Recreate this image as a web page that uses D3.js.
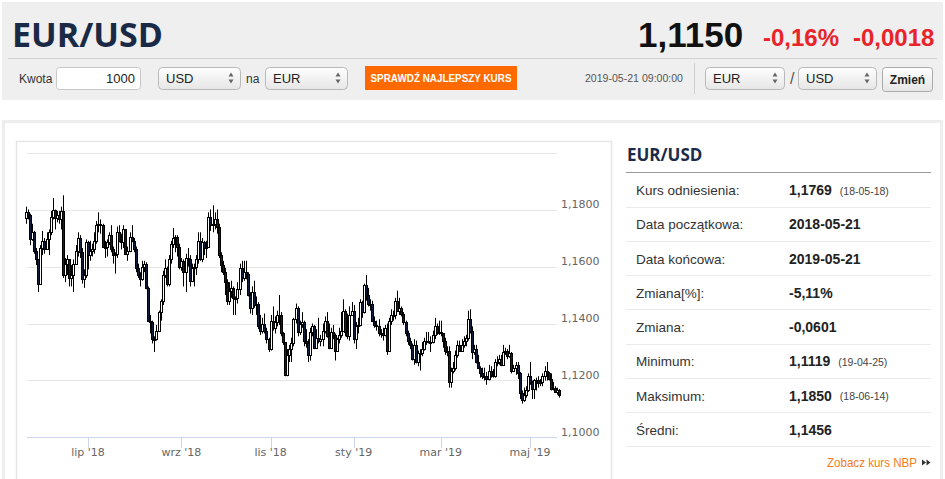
<!DOCTYPE html>
<html><head><meta charset="utf-8">
<script src="https://cdn.jsdelivr.net/npm/d3@7"></script>
<style>body{margin:0;background:#fff}svg{display:block}</style>
</head><body><svg id="c" width="945" height="479"></svg>
<script>
// ---- data (EUR/USD daily, 2018-05-21 .. 2019-05-21) ----
const refOpen = 1.1769;
const startDate = "2018-05-21";
const holidays = ["2018-12-24","2018-12-25","2018-12-31","2019-01-01"];
const closes = [
1.1790,1.1780,1.1695,1.1720,1.1655,1.1625,1.1540,1.1665,1.1690,
1.1660,1.1695,1.1720,1.1775,1.1800,1.1770,1.1780,1.1765,1.1795,1.1570,1.1610,1.1625,1.1560,1.1570,1.1610,1.1655,1.1700,1.1650,1.1555,1.1570,1.1685,
1.1640,1.1655,1.1660,1.1690,1.1745,1.1750,1.1745,1.1670,1.1670,1.1685,1.1710,1.1660,1.1640,1.1645,1.1720,1.1690,1.1685,1.1730,1.1645,1.1655,1.1705,1.1690,
1.1660,1.1595,1.1570,1.1555,1.1600,1.1610,1.1525,1.1410,1.1405,1.1345,1.1345,1.1375,1.1440,1.1480,1.1570,1.1595,1.1540,1.1625,1.1680,1.1700,1.1705,1.1670,1.1600,
1.1620,1.1580,1.1630,1.1625,1.1550,1.1595,1.1600,1.1625,1.1690,1.1625,1.1685,1.1665,1.1670,1.1775,1.1745,1.1750,1.1765,1.1740,1.1640,1.1605,
1.1580,1.1545,1.1480,1.1515,1.1525,1.1490,1.1490,1.1520,1.1595,1.1560,1.1580,1.1575,1.1500,1.1455,1.1510,1.1465,1.1470,1.1390,1.1375,1.1400,1.1375,1.1345,1.1310,
1.1410,1.1385,1.1405,1.1430,1.1430,1.1365,1.1335,1.1220,1.1290,1.1310,1.1330,1.1415,1.1455,1.1370,1.1400,1.1405,1.1340,1.1330,1.1290,1.1370,1.1390,1.1315,
1.1350,1.1340,1.1345,1.1375,1.1410,1.1355,1.1315,1.1370,1.1360,1.1305,1.1345,1.1360,1.1375,1.1445,1.1370,1.1355,1.1430,1.1445,
1.1345,1.1390,1.1395,1.1475,1.1440,1.1535,1.1500,1.1470,1.1470,1.1410,1.1395,1.1390,1.1365,1.1365,1.1360,1.1385,1.1305,1.1410,1.1430,1.1430,1.1480,1.1445,
1.1455,1.1435,1.1405,1.1365,1.1340,1.1325,1.1275,1.1325,1.1265,1.1295,1.1295,1.1310,1.1340,1.1340,1.1335,1.1335,1.1360,1.1390,1.1370,1.1370,
1.1365,1.1340,1.1305,1.1305,1.1195,1.1235,1.1245,1.1290,1.1325,1.1305,1.1325,1.1340,1.1350,1.1415,1.1375,1.1300,1.1310,1.1265,1.1245,1.1225,1.1215,
1.1215,1.1205,1.1235,1.1220,1.1215,1.1265,1.1265,1.1275,1.1255,1.1300,1.1305,1.1285,1.1295,1.1235,1.1245,1.1255,1.1225,1.1155,1.1130,1.1150,1.1165,1.1215,
1.1195,1.1170,1.1200,1.1200,1.1190,1.1195,1.1215,1.1235,1.1225,1.1205,1.1170,1.1175,1.1160,1.1165,1.1150
];
const highs = [
1.1810,1.1800,1.1785,1.1750,1.1725,1.1665,1.1625,1.1675,1.1725,
1.1700,1.1720,1.1730,1.1795,1.1840,1.1800,1.1795,1.1795,1.1810,1.1850,1.1630,1.1640,1.1625,1.1605,1.1625,1.1675,1.1720,1.1710,1.1665,1.1590,1.1695,
1.1690,1.1690,1.1680,1.1720,1.1760,1.1790,1.1765,1.1750,1.1690,1.1695,1.1720,1.1745,1.1670,1.1650,1.1740,1.1745,1.1715,1.1745,1.1730,1.1670,1.1720,1.1745,
1.1700,1.1670,1.1610,1.1580,1.1620,1.1620,1.1615,1.1530,1.1430,1.1410,1.1355,1.1395,1.1445,1.1485,1.1585,1.1625,1.1600,1.1640,1.1690,1.1735,1.1710,1.1710,1.1680,
1.1630,1.1625,1.1645,1.1665,1.1640,1.1610,1.1610,1.1640,1.1720,1.1720,1.1700,1.1690,1.1690,1.1790,1.1800,1.1815,1.1790,1.1800,1.1750,1.1650,
1.1620,1.1595,1.1555,1.1545,1.1550,1.1530,1.1495,1.1545,1.1610,1.1620,1.1620,1.1620,1.1580,1.1510,1.1530,1.1550,1.1495,1.1475,1.1430,1.1420,1.1435,1.1385,1.1350,
1.1430,1.1460,1.1425,1.1445,1.1500,1.1440,1.1370,1.1335,1.1310,1.1325,1.1350,1.1420,1.1470,1.1460,1.1410,1.1440,1.1410,1.1380,1.1345,1.1385,1.1400,1.1395,
1.1380,1.1420,1.1360,1.1400,1.1425,1.1440,1.1400,1.1385,1.1395,1.1365,1.1350,1.1385,1.1440,1.1485,1.1450,1.1435,1.1460,1.1475,
1.1465,1.1405,1.1420,1.1485,1.1480,1.1540,1.1570,1.1525,1.1485,1.1480,1.1425,1.1410,1.1415,1.1380,1.1385,1.1395,1.1400,1.1420,1.1450,1.1445,1.1490,1.1515,
1.1490,1.1460,1.1440,1.1410,1.1375,1.1350,1.1330,1.1345,1.1340,1.1305,1.1310,1.1335,1.1350,1.1370,1.1370,1.1355,1.1375,1.1420,1.1400,1.1410,
1.1410,1.1365,1.1350,1.1320,1.1320,1.1245,1.1265,1.1305,1.1340,1.1340,1.1345,1.1355,1.1360,1.1445,1.1450,1.1390,1.1325,1.1325,1.1290,1.1250,1.1245,
1.1245,1.1230,1.1255,1.1250,1.1240,1.1275,1.1285,1.1290,1.1290,1.1325,1.1315,1.1310,1.1325,1.1300,1.1255,1.1265,1.1265,1.1230,1.1165,1.1175,1.1180,1.1225,
1.1265,1.1200,1.1205,1.1210,1.1215,1.1205,1.1225,1.1250,1.1265,1.1230,1.1225,1.1195,1.1180,1.1175,1.1170
];
const lows = [
1.1750,1.1765,1.1675,1.1690,1.1645,1.1605,1.1510,1.1535,1.1640,
1.1645,1.1660,1.1640,1.1710,1.1765,1.1730,1.1755,1.1750,1.1730,1.1560,1.1545,1.1570,1.1530,1.1530,1.1510,1.1605,1.1635,1.1630,1.1540,1.1525,1.1560,
1.1590,1.1620,1.1635,1.1645,1.1680,1.1720,1.1715,1.1665,1.1630,1.1635,1.1675,1.1650,1.1610,1.1575,1.1630,1.1685,1.1660,1.1665,1.1640,1.1620,1.1650,1.1685,
1.1650,1.1580,1.1560,1.1530,1.1550,1.1580,1.1520,1.1405,1.1365,1.1330,1.1300,1.1340,1.1370,1.1410,1.1465,1.1560,1.1530,1.1530,1.1610,1.1665,1.1650,1.1635,1.1590,
1.1585,1.1530,1.1510,1.1600,1.1530,1.1545,1.1530,1.1570,1.1610,1.1620,1.1615,1.1640,1.1630,1.1665,1.1725,1.1720,1.1730,1.1715,1.1630,1.1580,
1.1570,1.1500,1.1465,1.1465,1.1490,1.1430,1.1430,1.1470,1.1500,1.1545,1.1550,1.1555,1.1495,1.1435,1.1430,1.1455,1.1430,1.1380,1.1360,1.1365,1.1365,1.1330,1.1300,
1.1305,1.1375,1.1365,1.1390,1.1395,1.1355,1.1325,1.1215,1.1215,1.1265,1.1265,1.1320,1.1400,1.1355,1.1360,1.1385,1.1320,1.1315,1.1265,1.1270,1.1355,1.1310,
1.1315,1.1330,1.1320,1.1320,1.1365,1.1350,1.1310,1.1310,1.1345,1.1270,1.1300,1.1330,1.1350,1.1370,1.1355,1.1345,1.1340,1.1430,
1.1330,1.1310,1.1365,1.1390,1.1420,1.1435,1.1480,1.1460,1.1445,1.1405,1.1385,1.1375,1.1355,1.1350,1.1340,1.1355,1.1290,1.1300,1.1395,1.1410,1.1415,1.1440,
1.1430,1.1425,1.1395,1.1355,1.1325,1.1310,1.1270,1.1255,1.1260,1.1250,1.1235,1.1285,1.1305,1.1325,1.1330,1.1300,1.1330,1.1345,1.1360,1.1360,
1.1355,1.1315,1.1290,1.1285,1.1175,1.1175,1.1225,1.1235,1.1280,1.1300,1.1300,1.1315,1.1320,1.1340,1.1365,1.1275,1.1290,1.1260,1.1240,1.1210,1.1205,
1.1200,1.1185,1.1200,1.1210,1.1210,1.1210,1.1250,1.1255,1.1250,1.1255,1.1290,1.1275,1.1280,1.1225,1.1230,1.1220,1.1205,1.1135,1.1119,1.1125,1.1140,1.1160,
1.1185,1.1135,1.1135,1.1165,1.1175,1.1180,1.1180,1.1200,1.1200,1.1200,1.1165,1.1165,1.1160,1.1150,1.1140
];
const monthTickMonths = ["2018-07","2018-09","2018-11","2019-01","2019-03","2019-05"];
const monthTickLabels = ["lip '18","wrz '18","lis '18","sty '19","mar '19","maj '19"];
const yTickValues = [1.10,1.12,1.14,1.16,1.18];
const yTickLabels = ["1,1000","1,1200","1,1400","1,1600","1,1800"];
const yGridValues = [1.12,1.14,1.16,1.18,1.20];
const statLabels = ["Kurs odniesienia:","Data początkowa:","Data końcowa:","Zmiana[%]:","Zmiana:","Minimum:","Maksimum:","Średni:"];
const statValues = ["1,1769","2018-05-21","2019-05-21","-5,11%","-0,0601","1,1119","1,1850","1,1456"];
const statDates = ["(18-05-18)","","","","","(19-04-25)","(18-06-14)",""];

// ---- trading dates (ordinal axis) ----
const dates = [];
{
  let d = new Date(startDate + "T00:00:00Z");
  while (dates.length < closes.length) {
    const iso = d.toISOString().slice(0,10);
    const wd = d.getUTCDay();
    if (wd !== 0 && wd !== 6 && !holidays.includes(iso)) dates.push(iso);
    d = new Date(d.getTime() + 86400000);
  }
}
const data = closes.map((c,i) => {
  const o = i === 0 ? refOpen : closes[i-1];
  return {i, date: dates[i], o, c, h: Math.max(highs[i], o, c), l: Math.min(lows[i], o, c)};
});

const svg = d3.select("#c");
const SANS = "Arial, 'Liberation Sans', sans-serif";
const defs = svg.append("defs");
const g1 = defs.append("linearGradient").attr("id","sel").attr("x1",0).attr("y1",0).attr("x2",0).attr("y2",1);
g1.append("stop").attr("offset","0").attr("stop-color","#fefefe");
g1.append("stop").attr("offset","1").attr("stop-color","#e6e6e6");

// ---- header ----
svg.append("rect").attr("x",2).attr("y",2).attr("width",941).attr("height",98).attr("fill","#efefef");
svg.append("text").attr("x",12).attr("y",47).text("EUR/USD")
  .attr("font-family","'Open Sans', sans-serif").attr("font-weight",700).attr("font-size",34).attr("fill","#1a2945");
svg.append("text").attr("x",638).attr("y",47).text("1,1150")
  .attr("font-family",SANS).attr("font-weight",700).attr("font-size",35).attr("fill","#111");
svg.append("text").attr("x",763).attr("y",46).text("-0,16%")
  .attr("font-family",SANS).attr("font-weight",700).attr("font-size",24).attr("fill","#e8232a");
svg.append("text").attr("x",853).attr("y",46).text("-0,0018")
  .attr("font-family",SANS).attr("font-weight",700).attr("font-size",24).attr("fill","#e8232a");
svg.append("line").attr("x1",8).attr("x2",937).attr("y1",58.5).attr("y2",58.5).attr("stroke","#d2d2d2");

function txt(x,y,s,opt={}) {
  const t = svg.append("text").attr("x",x).attr("y",y).text(s)
    .attr("font-family",opt.family||SANS).attr("font-size",opt.size||12)
    .attr("fill",opt.fill||"#333").attr("font-weight",opt.weight||400)
    .attr("text-anchor",opt.anchor||"start");
  if (opt.len) t.attr("textLength",opt.len).attr("lengthAdjust","spacingAndGlyphs");
  return t;
}
function selectBox(x,y,w,h,label) {
  svg.append("rect").attr("x",x+0.5).attr("y",y+0.5).attr("width",w).attr("height",h).attr("rx",4)
    .attr("fill","url(#sel)").attr("stroke","#b9b9b9");
  txt(x+8, y+h/2+4.5, label, {size:13, fill:"#222"});
  const ax = x + w - 9;
  svg.append("path").attr("d",`M${ax-2.5},${y+h/2-1.5}L${ax+2.5},${y+h/2-1.5}L${ax},${y+h/2-5.5}Z`).attr("fill","#666");
  svg.append("path").attr("d",`M${ax-2.5},${y+h/2+1.5}L${ax+2.5},${y+h/2+1.5}L${ax},${y+h/2+5.5}Z`).attr("fill","#666");
}
txt(19,83,"Kwota");
svg.append("rect").attr("x",56.5).attr("y",67.5).attr("width",84).attr("height",22).attr("rx",3)
  .attr("fill","#fff").attr("stroke","#c8c8c8");
txt(135,83,"1000",{anchor:"end",size:13,fill:"#222"});
selectBox(158,67,82,22,"USD");
txt(246,83,"na");
selectBox(265,67,82,22,"EUR");
svg.append("rect").attr("x",365).attr("y",66).attr("width",152).attr("height",24).attr("fill","#ff6a00");
txt(441,82,"SPRAWDŹ NAJLEPSZY KURS",{anchor:"middle",size:11,weight:700,fill:"#fff",len:141});
txt(585,82,"2019-05-21 09:00:00",{size:11,fill:"#555",len:98});
svg.append("line").attr("x1",694.5).attr("x2",694.5).attr("y1",63).attr("y2",94).attr("stroke","#cfcfcf");
selectBox(705,67,79,22,"EUR");
txt(790,84,"/",{size:16,fill:"#555"});
selectBox(798,67,78,22,"USD");
svg.append("rect").attr("x",882.5).attr("y",67.5).attr("width",50).attr("height",24).attr("rx",3)
  .attr("fill","url(#sel)").attr("stroke","#aaa");
txt(907.5,84,"Zmień",{anchor:"middle",size:12,weight:700,fill:"#222"});

// ---- panels ----
svg.append("rect").attr("x",3.5).attr("y",121.5).attr("width",938).attr("height",380)
  .attr("fill","none").attr("stroke","#eeeeee").attr("stroke-width",3);
svg.append("rect").attr("x",16.5).attr("y",141.5).attr("width",595).attr("height",400)
  .attr("fill","none").attr("stroke","#e6e6e6").attr("stroke-width",1.5);

// ---- chart ----
const x = d3.scaleLinear().domain([0, data.length-1]).range([25.75, 559.1]);
const y = d3.scaleLinear().domain([1.10, 1.20]).range([437.5, 152.5]);
const gx1 = 27, gx2 = 557;

svg.append("g").selectAll("line").data(yGridValues).join("line")
  .attr("x1",gx1).attr("x2",gx2).attr("y1",d=>Math.round(y(d))+0.5).attr("y2",d=>Math.round(y(d))+0.5)
  .attr("stroke","#e6e6e6").attr("stroke-width",1.2);

svg.append("g").selectAll("text").data(yTickValues).join("text")
  .attr("x",561).attr("y",d=>y(d)-1.5).text((d,i)=>yTickLabels[i])
  .attr("font-family","'DejaVu Sans', Verdana, sans-serif").attr("font-size",11).attr("fill","#666");

// x axis
svg.append("line").attr("x1",gx1).attr("x2",gx2).attr("y1",437.5).attr("y2",437.5).attr("stroke","#ccd6eb");
const tickIdx = monthTickMonths.map(m => dates.findIndex(d => d.slice(0,7) === m));
const axisG = svg.append("g");
axisG.selectAll("line").data(tickIdx).join("line")
  .attr("x1",d=>Math.round(x(d))+0.5).attr("x2",d=>Math.round(x(d))+0.5)
  .attr("y1",438).attr("y2",448).attr("stroke","#ccd6eb");
axisG.selectAll("text").data(tickIdx).join("text")
  .attr("x",d=>x(d)).attr("y",456).attr("text-anchor","middle").text((d,i)=>monthTickLabels[i])
  .attr("font-family","'DejaVu Sans', Verdana, sans-serif").attr("font-size",11).attr("fill","#666");

// candles
const cg = svg.append("g");
cg.selectAll("line").data(data).join("line")
  .attr("x1",d=>Math.round(x(d.i))+0.5).attr("x2",d=>Math.round(x(d.i))+0.5)
  .attr("y1",d=>y(d.h)).attr("y2",d=>y(d.l)).attr("stroke","#000").attr("stroke-width",1);
cg.selectAll("rect").data(data).join("rect")
  .attr("x",d=>Math.round(x(d.i))-0.5)
  .attr("y",d=>Math.round(y(Math.max(d.o,d.c)))+0.5)
  .attr("width",2)
  .attr("height",d=>Math.max(1, Math.round(y(Math.min(d.o,d.c))) - Math.round(y(Math.max(d.o,d.c)))))
  .attr("fill",d=>d.c >= d.o ? "#ffffff" : "#0d1d3a")
  .attr("stroke","#000").attr("stroke-width",1);

// ---- stats panel ----
svg.append("text").attr("x",627).attr("y",161).text("EUR/USD")
  .attr("font-family","'Open Sans', sans-serif").attr("font-weight",700).attr("font-size",17).attr("fill","#1c2b4a");
svg.append("line").attr("x1",626).attr("x2",931).attr("y1",172.5).attr("y2",172.5).attr("stroke","#999");
statLabels.forEach((lab,k) => {
  const sep = 206.5 + k*34.25;
  const cy = sep - 16.5;
  svg.append("line").attr("x1",626).attr("x2",931).attr("y1",Math.round(sep)+0.5).attr("y2",Math.round(sep)+0.5).attr("stroke","#ebebeb");
  txt(636, cy+5, lab, {size:13.5, fill:"#333"});
  const v = txt(789, cy+5, statValues[k], {size:14, weight:700, fill:"#222"});
  if (statDates[k]) {
    const w = v.node().getComputedTextLength();
    txt(789 + w + 8, cy+4.5, statDates[k], {size:10.5, fill:"#444"});
  }
});
txt(827,467,"Zobacz kurs NBP",{size:13,fill:"#f47b20",len:90});
svg.append("path").attr("d","M922,459.5L926,462.5L922,465.5Z M926.5,459.5L930.5,462.5L926.5,465.5Z").attr("fill","#333");
</script></body></html>
